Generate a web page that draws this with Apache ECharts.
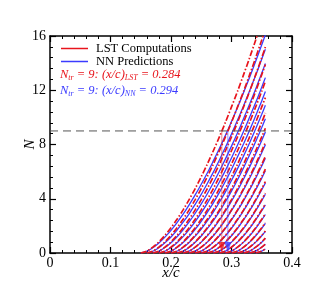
<!DOCTYPE html>
<html><head><meta charset="utf-8">
<script src="https://cdn.jsdelivr.net/npm/echarts@6/dist/echarts.min.js"></script>
<style>html,body{margin:0;padding:0;background:#fff}#c{width:332px;height:296px}</style>
</head><body><div id="c"></div>
<script>
// x stations (x/c) shared by all N-factor curves
const xGrid = [0.15,0.16,0.17,0.18,0.19,0.20,0.21,0.22,0.23,0.24,0.25,0.26,0.27,0.28,0.29,0.30,0.31,0.32,0.33,0.34,0.35,0.356];
// start location (N=0) of each curve
const curveStarts = [0.15,0.16,0.17,0.18,0.19,0.20,0.21,0.22,0.23,0.24,0.25,0.26,0.27,0.28,0.29,0.30,0.31,0.32,0.33,0.34];
// LST computations: N values from start to x/c = 0.356
const lstCurves = [
  [0,0.14,0.43,0.82,1.30,1.86,2.49,3.18,3.94,4.75,5.63,6.55,7.54,8.56,9.64,10.77,11.93,13.15,14.40,15.71,17.06,17.88],
  [0,0.14,0.43,0.82,1.30,1.86,2.49,3.18,3.94,4.75,5.63,6.55,7.54,8.56,9.64,10.77,11.93,13.15,14.40,15.71,16.50],
  [0,0.14,0.43,0.82,1.30,1.86,2.49,3.18,3.94,4.75,5.63,6.55,7.54,8.56,9.64,10.77,11.93,13.15,14.40,15.19],
  [0,0.14,0.43,0.82,1.30,1.86,2.49,3.18,3.94,4.75,5.63,6.55,7.54,8.56,9.64,10.77,11.93,13.15,13.90],
  [0,0.14,0.43,0.82,1.30,1.86,2.49,3.18,3.94,4.75,5.63,6.55,7.54,8.56,9.64,10.77,11.93,12.66],
  [0,0.14,0.43,0.82,1.30,1.86,2.49,3.18,3.94,4.75,5.63,6.55,7.54,8.56,9.64,10.77,11.46],
  [0,0.14,0.43,0.82,1.30,1.86,2.49,3.18,3.94,4.75,5.63,6.55,7.54,8.56,9.64,10.31],
  [0,0.14,0.43,0.82,1.30,1.86,2.49,3.18,3.94,4.75,5.63,6.55,7.54,8.56,9.20],
  [0,0.14,0.43,0.82,1.30,1.86,2.49,3.18,3.94,4.75,5.63,6.55,7.54,8.15],
  [0,0.14,0.43,0.82,1.30,1.86,2.49,3.18,3.94,4.75,5.63,6.55,7.13],
  [0,0.14,0.43,0.82,1.30,1.86,2.49,3.18,3.94,4.75,5.63,6.18],
  [0,0.14,0.43,0.82,1.30,1.86,2.49,3.18,3.94,4.75,5.27],
  [0,0.14,0.43,0.82,1.30,1.86,2.49,3.18,3.94,4.42],
  [0,0.14,0.43,0.82,1.30,1.86,2.49,3.18,3.62],
  [0,0.14,0.43,0.82,1.30,1.86,2.49,2.90],
  [0,0.14,0.43,0.82,1.30,1.86,2.23],
  [0,0.14,0.43,0.82,1.30,1.62],
  [0,0.14,0.43,0.82,1.10],
  [0,0.14,0.43,0.65],
  [0,0.14,0.30]
];
// NN predictions
const nnCurves = [
  [0,0.13,0.39,0.74,1.17,1.67,2.24,2.86,3.55,4.28,5.07,5.90,6.79,7.70,8.68,9.69,10.74,11.84,12.96,14.14,15.35,16.09],
  [0,0.13,0.39,0.75,1.18,1.69,2.27,2.89,3.59,4.32,5.12,5.96,6.86,7.79,8.77,9.80,10.86,11.97,13.10,14.30,15.02],
  [0,0.13,0.40,0.75,1.20,1.71,2.29,2.93,3.62,4.37,5.18,6.03,6.94,7.88,8.87,9.91,10.98,12.10,13.25,13.97],
  [0,0.13,0.40,0.76,1.21,1.73,2.32,2.96,3.66,4.42,5.24,6.09,7.01,7.96,8.97,10.02,11.09,12.23,12.93],
  [0,0.13,0.40,0.77,1.22,1.75,2.34,2.99,3.70,4.47,5.29,6.16,7.09,8.05,9.06,10.12,11.21,11.90],
  [0,0.13,0.41,0.78,1.24,1.77,2.37,3.02,3.74,4.51,5.35,6.22,7.16,8.13,9.16,10.23,10.89],
  [0,0.13,0.41,0.79,1.25,1.79,2.39,3.05,3.78,4.56,5.40,6.29,7.24,8.22,9.25,9.90],
  [0,0.14,0.42,0.80,1.26,1.80,2.42,3.08,3.82,4.61,5.46,6.35,7.31,8.30,8.92],
  [0,0.14,0.42,0.80,1.27,1.82,2.44,3.12,3.86,4.66,5.52,6.42,7.39,7.99],
  [0,0.14,0.42,0.80,1.27,1.82,2.44,3.12,3.86,4.66,5.52,6.42,6.99],
  [0,0.14,0.42,0.80,1.27,1.82,2.44,3.12,3.86,4.66,5.52,6.06],
  [0,0.14,0.42,0.80,1.27,1.82,2.44,3.12,3.86,4.66,5.16],
  [0,0.14,0.42,0.80,1.27,1.82,2.44,3.12,3.86,4.33],
  [0,0.14,0.42,0.80,1.27,1.82,2.44,3.12,3.55],
  [0,0.14,0.42,0.80,1.27,1.82,2.44,2.84],
  [0,0.14,0.42,0.80,1.27,1.82,2.19],
  [0,0.14,0.42,0.80,1.27,1.59],
  [0,0.14,0.42,0.80,1.08],
  [0,0.14,0.42,0.64],
  [0,0.14,0.29]
];
const thresholdN = 9;
const transLST = 0.284;
const transNN = 0.294;
const xTicks = [0, 0.1, 0.2, 0.3, 0.4];
const yTicks = [0, 4, 8, 12, 16];

const RED = '#e8141c', BLUE = '#3b3bff';
const SERIF = 'Liberation Serif, Times New Roman, serif';

function pairs(start, vals) {
  const i0 = xGrid.findIndex(x => Math.abs(x - start) < 1e-9);
  return vals.map((v, i) => [xGrid[i0 + i], v]);
}

const series = [];
nnCurves.forEach((c, k) => series.push({
  name: 'NN Predictions', type: 'line', data: pairs(curveStarts[k], c),
  showSymbol: false, symbol: 'none', smooth: 0.3, clip: true, silent: true,
  lineStyle: { color: BLUE, width: 1.3 }, itemStyle: { color: BLUE }, z: 2
}));
lstCurves.forEach((c, k) => series.push({
  name: 'LST Computations', type: 'line', data: pairs(curveStarts[k], c),
  showSymbol: false, symbol: 'none', smooth: 0.3, clip: true, silent: true,
  lineStyle: { color: RED, width: 1.7, type: [6, 2, 1.5, 2] }, itemStyle: { color: RED }, z: 3
}));
series.push({
  type: 'line', data: [[xTicks[0], thresholdN], [xTicks[xTicks.length - 1], thresholdN]],
  symbol: 'none', silent: true, lineStyle: { color: '#555', width: 1, type: [8, 5] }, z: 4
});
series.push({
  type: 'line', data: [[transLST, thresholdN], [transLST, 0.5]],
  symbol: 'none', silent: true, lineStyle: { color: 'rgba(220,60,60,0.6)', width: 1 }, z: 4
});
series.push({
  type: 'line', data: [[transNN, thresholdN], [transNN, 0.5]],
  symbol: 'none', silent: true, lineStyle: { color: 'rgba(80,80,255,0.6)', width: 1 }, z: 4
});
series.push({
  type: 'scatter', data: [[transLST, 0.45]], symbol: 'triangle', symbolRotate: 180,
  symbolSize: [7, 10], itemStyle: { color: RED }, silent: true, z: 5
});
series.push({
  type: 'scatter', data: [[transNN, 0.45]], symbol: 'triangle', symbolRotate: 180,
  symbolSize: [7, 10], itemStyle: { color: BLUE }, silent: true, z: 5
});

const axisCommon = {
  type: 'value',
  axisLine: { show: true, onZero: false, lineStyle: { color: '#000', width: 1.5 } },
  axisTick: { show: true, inside: true, length: 6, lineStyle: { color: '#000', width: 1.2 } },
  minorTick: { show: true, splitNumber: 5, length: 3, lineStyle: { color: '#000', width: 1 } },
  splitLine: { show: false }, minorSplitLine: { show: false }
};
const xMin = xTicks[0], xMax = xTicks[xTicks.length - 1], xInt = xTicks[1] - xTicks[0];
const yMin = yTicks[0], yMax = yTicks[yTicks.length - 1], yInt = yTicks[1] - yTicks[0];

const chart = echarts.init(document.getElementById('c'), null, { renderer: 'canvas' });
chart.setOption({
  animation: false,
  backgroundColor: '#fff',
  grid: { left: 50, right: 40, top: 36, bottom: 43 },
  legend: {
    data: ['LST Computations', 'NN Predictions'], orient: 'vertical', left: 61, top: 42,
    icon: 'rect', itemWidth: 27, itemHeight: 1.5, itemGap: 0, selectedMode: false, padding: 0,
    textStyle: { fontFamily: SERIF, fontSize: 12.5, color: '#000', lineHeight: 12, padding: [0, 0, 0, 3] }
  },
  xAxis: [
    Object.assign({}, axisCommon, {
      position: 'bottom', min: xMin, max: xMax, interval: xInt,
      name: 'x/c', nameLocation: 'middle', nameGap: 13, nameMoveOverlap: false,
      nameTextStyle: { fontFamily: SERIF, fontStyle: 'italic', fontSize: 15, color: '#000', lineHeight: 15 },
      axisLabel: { fontFamily: SERIF, fontSize: 14, color: '#000', margin: 3,
        formatter: v => v === 0 ? '0' : v.toFixed(1) }
    }),
    Object.assign({}, axisCommon, { position: 'top', min: xMin, max: xMax, interval: xInt, axisLabel: { show: false } })
  ],
  yAxis: [
    Object.assign({}, axisCommon, {
      position: 'left', min: yMin, max: yMax, interval: yInt,
      name: 'N', nameLocation: 'middle', nameGap: 12, nameRotate: 90, nameMoveOverlap: false,
      nameTextStyle: { fontFamily: SERIF, fontStyle: 'italic', fontSize: 15, color: '#000' },
      axisLabel: { fontFamily: SERIF, fontSize: 14, color: '#000', margin: 4 }
    }),
    Object.assign({}, axisCommon, { position: 'right', min: yMin, max: yMax, interval: yInt, axisLabel: { show: false } })
  ],
  graphic: [
    { type: 'text', left: 60, top: 68, silent: true,
      style: { text: '{m|N}{s|tr}{m| = 9: (x/c)}{s|LST}{m| = ' + transLST.toFixed(3) + '}',
        rich: { m: { fontFamily: SERIF, fontStyle: 'italic', fontSize: 12.5, fill: RED, lineHeight: 15 },
                s: { fontFamily: SERIF, fontStyle: 'italic', fontSize: 8, fill: RED, lineHeight: 15, padding: [6, 0, 0, 0] } } } },
    { type: 'text', left: 60, top: 84, silent: true,
      style: { text: '{m|N}{s|tr}{m| = 9: (x/c)}{s|NN}{m| = ' + transNN.toFixed(3) + '}',
        rich: { m: { fontFamily: SERIF, fontStyle: 'italic', fontSize: 12.5, fill: BLUE, lineHeight: 15 },
                s: { fontFamily: SERIF, fontStyle: 'italic', fontSize: 8, fill: BLUE, lineHeight: 15, padding: [6, 0, 0, 0] } } } }
  ],
  series: series
});
</script></body></html>
